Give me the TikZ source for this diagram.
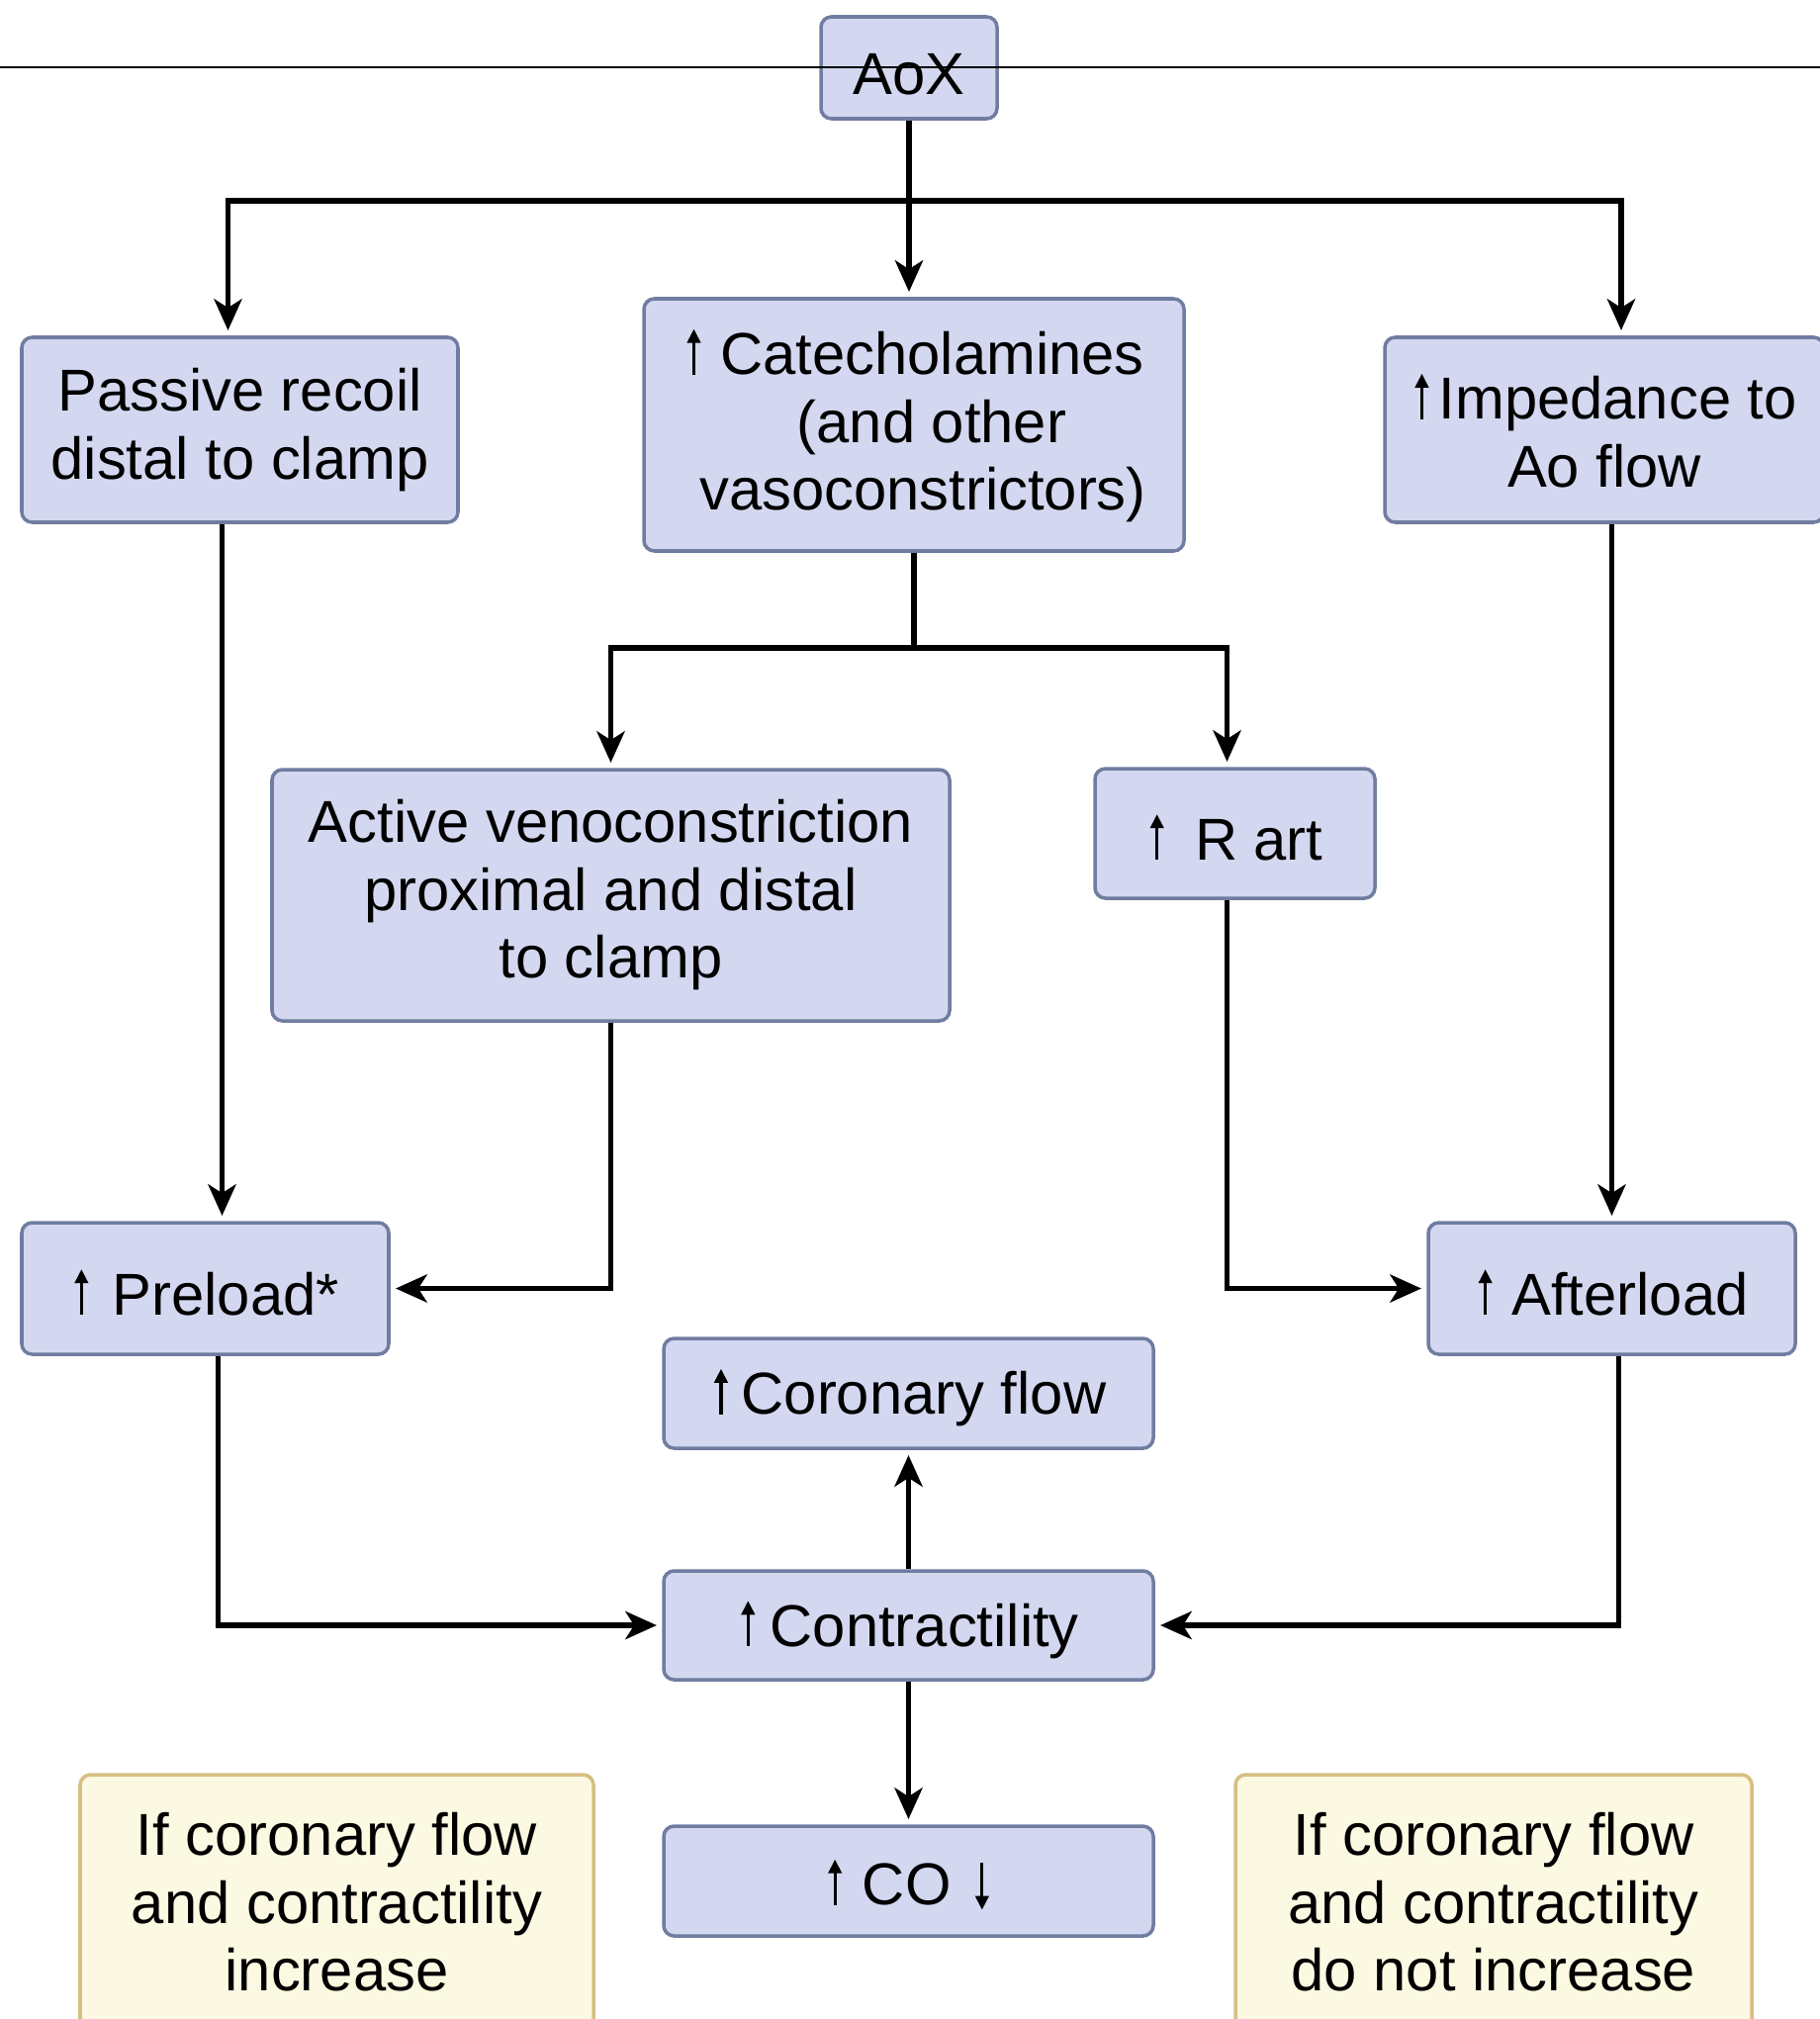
\documentclass[tikz,border=0pt]{standalone}
\usepackage{fontspec}
\setmainfont{Liberation Sans}
\usetikzlibrary{arrows.meta}
\definecolor{boxfill}{RGB}{211,216,240}
\definecolor{boxline}{RGB}{112,124,160}
\definecolor{notefill}{RGB}{252,249,226}
\definecolor{noteline}{RGB}{214,190,130}
% thin up/down arrows used inside the box texts
\newcommand{\incr}{\kern1pt\tikz[baseline=0pt]\draw[draw=black, line width=0.9pt, -{Triangle[length=4pt, width=3.8pt]}] (0,0) -- (0,0.46);\kern1pt}
\newcommand{\decr}{\kern1pt\tikz[baseline=0pt]\draw[draw=black, line width=0.9pt, -{Triangle[length=4pt, width=3.8pt]}] (0,0.43) -- (0,-0.05);\kern1pt}
\begin{document}
\begin{tikzpicture}[
    box/.style={draw=boxline, fill=boxfill, line width=1pt, rounded corners=3pt,
        align=center, inner sep=0pt, font=\fontsize{17}{19.5}\selectfont,
        execute at begin node={\rule{0pt}{15.6pt}}},
    note/.style={box, draw=noteline, fill=notefill},
    arr/.style={line width=1.6pt, -{Stealth[length=9pt, width=8pt, inset=2.5pt]}, shorten >=1.5pt}
    ]
        \clip (0,0) rectangle (18.4,-20.41);
        \fill[white] (0,0) rectangle (18.4,-20.41);
        % top row
        \node[box, minimum width=1.78cm, minimum height=1.03cm] (aox) at (9.19,-0.685) {AoX};
        \node[box, minimum width=4.41cm, minimum height=1.87cm] (passive) at (2.425,-4.345) {Passive recoil\\distal to clamp};
        \node[box, minimum width=5.46cm, minimum height=2.55cm] (cat) at (9.24,-4.295) {\incr{} Catecholamines\\\hspace*{0.6em}(and other\\\hspace*{0.3em}vasoconstrictors)};
        \node[box, minimum width=4.44cm, minimum height=1.87cm] (imp) at (16.22,-4.345) {\incr\kern2pt Impedance to\\Ao flow};
        % middle row
        \node[box, minimum width=6.85cm, minimum height=2.54cm] (veno) at (6.175,-9.05) {Active venoconstriction\\proximal and distal\\to clamp};
        \node[box, minimum width=2.83cm, minimum height=1.31cm] (rart) at (12.485,-8.425) {\incr\hspace{8pt}R art};
        \node[box, minimum width=3.71cm, minimum height=1.33cm] (preload) at (2.075,-13.025) {\incr\hspace{6pt}Preload*};
        \node[box, minimum width=3.71cm, minimum height=1.33cm] (afterload) at (16.295,-13.025) {\incr{} Afterload};
        % centre column
        \node[box, minimum width=4.95cm, minimum height=1.11cm] (coronary) at (9.185,-14.085) {\incr\kern3pt Coronary flow};
        \node[box, minimum width=4.95cm, minimum height=1.10cm] (contr) at (9.185,-16.43) {\incr\kern3.5pt Contractility};
        \node[box, minimum width=4.95cm, minimum height=1.11cm] (co) at (9.185,-19.015) {\incr\kern5pt CO\kern6pt\decr};
        % notes
        \node[note, minimum width=5.19cm, minimum height=2.58cm] (noteup) at (3.405,-19.23) {If coronary flow\\and contractility\\increase};
        \node[note, minimum width=5.22cm, minimum height=2.58cm] (notedown) at (15.10,-19.23) {If coronary flow\\and contractility\\do not increase};
        % stray rule across the top
        \draw[line width=0.6pt] (0,-0.68) -- (18.4,-0.68);
        % connectors
        \coordinate (split) at (aox.south |- 0,-2.03);
        \draw[arr] (aox.south) -- (aox.south |- cat.north);
        \draw[arr] (split) -| ([xshift=-1.2mm]passive.north);
        \draw[arr] (split) -| ([xshift=1.7mm]imp.north);
        \coordinate (split2) at (cat.south |- 0,-6.55);
        \draw[line width=1.6pt] (cat.south) -- (split2);
        \draw[arr] (split2) -| (veno.north);
        \draw[arr] (split2) -| ([xshift=-0.8mm]rart.north);
        \draw[arr] ([xshift=-1.8mm]passive.south) -- ([xshift=-1.8mm]passive.south |- preload.north);
        \draw[arr] (veno.south) |- (preload.east);
        \draw[arr] ([xshift=-0.8mm]rart.south) |- (afterload.west);
        \draw[arr] (imp.south -| afterload.north) -- (afterload.north);
        \draw[arr] ([xshift=1.3mm]preload.south) |- (contr.west);
        \draw[arr] ([xshift=0.7mm]afterload.south) |- (contr.east);
        \draw[arr] (contr.north) -- (coronary.south);
        \draw[arr] (contr.south) -- (co.north);
\end{tikzpicture}
\end{document}
